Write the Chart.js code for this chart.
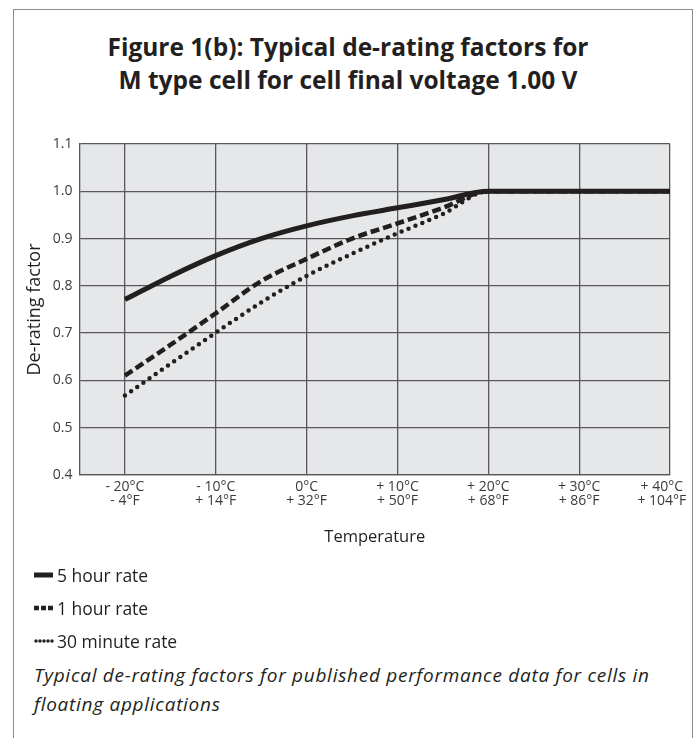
<!DOCTYPE html>
<html>
<head>
<meta charset="utf-8">
<title>De-rating factors</title>
<script src="https://cdn.jsdelivr.net/npm/chart.js@4.4.1/dist/chart.umd.min.js"></script>
<style>
  html, body { margin: 0; padding: 0; background: #fff; }
  body {
    width: 696px; height: 738px; position: relative; overflow: hidden;
    font-family: 'Open Sans', sans-serif; color: #231f20;
  }
  #frame {
    position: absolute; left: 13px; top: 9px; width: 678px; height: 760px;
    border: 1.5px solid #8c8c8c; border-bottom: none;
  }
  #title {
    position: absolute; left: 0; top: 30px; width: 696px;
    text-align: center; font-weight: 700; font-size: 24.5px; line-height: 33px;
  }
  #chart-wrap { position: absolute; left: 0; top: 120px; width: 696px; height: 440px; }
  #legend { position: absolute; left: 34px; top: 558px; font-size: 17.5px; }
  .legend-row { display: flex; align-items: center; height: 33px; white-space: nowrap; }
  .legend-row svg { margin-right: 3px; }
  #caption {
    position: absolute; left: 34px; top: 661px; width: 660px;
    font-size: 19px; font-style: italic; line-height: 29px; letter-spacing: 0.72px;
    white-space: nowrap;
  }
</style>
</head>
<body>
<div id="frame"></div>
<div id="title">Figure 1(b): Typical de-rating factors for<br>M type cell for cell final voltage 1.00 V</div>
<div id="chart-wrap"><canvas id="chart" width="696" height="440"></canvas></div>
<div id="legend"></div>
<div id="caption">Typical de-rating factors for published performance data for cells in<br>floating applications</div>

<script>
'use strict';

// ─── Data ─────────────────────────────────────────────────────────────────────
const temps   = [-20, -15, -10, -5, 0, 5, 10, 15, 20, 30, 40];
const rate5h  = [0.771, 0.820, 0.864, 0.900, 0.927, 0.948, 0.965, 0.982, 1.0, 1.0, 1.0];
const rate1h  = [0.610, 0.675, 0.742, 0.810, 0.857, 0.900, 0.932, 0.965, 1.0, 1.0, 1.0];
const rate30m = [0.568, 0.635, 0.701, 0.765, 0.821, 0.868, 0.911, 0.952, 1.0, 1.0, 1.0];

const seriesNames = ['5 hour rate', '1 hour rate', '30 minute rate'];

const xTickValues = [-20, -10, 0, 10, 20, 30, 40];
const xTickLabels = [
  ['- 20°C', '- 4°F'],
  ['- 10°C', '+ 14°F'],
  ['0°C',    '+ 32°F'],
  ['+ 10°C', '+ 50°F'],
  ['+ 20°C', '+ 68°F'],
  ['+ 30°C', '+ 86°F'],
  ['+ 40°C', '+ 104°F'],
];
const yTickValues = [0.4, 0.5, 0.6, 0.7, 0.8, 0.9, 1.0, 1.1];

// ─── Styles ───────────────────────────────────────────────────────────────────
const INK       = '#231f20';
const GRID      = '#58585a';
const TICK_TEXT = '#3c3a3b';
const FONT      = "'Open Sans', sans-serif";

const lineStyles = [
  { width: 5,   dash: [],       cap: 'butt',  svgDash: '',    svgWidth: 5   },
  { width: 4.5, dash: [9, 4],   cap: 'butt',  svgDash: '5 2', svgWidth: 4.5 },
  { width: 4.5, dash: [0, 7.5], cap: 'round', svgDash: '0 4', svgWidth: 3.5 },
];

function toPoints(values) {
  return temps.map((t, i) => ({ x: t, y: values[i] }));
}

// the last tick sits on the frame edge, so its label is nudged left like the original
function tickLabel(v) {
  const idx = xTickValues.indexOf(v);
  const lines = xTickLabels[idx];
  if (idx === xTickValues.length - 1) return lines.map((s) => s + '\u2003\u2009');
  return lines;
}

// ─── Plot background ──────────────────────────────────────────────────────────
const plotBg = {
  id: 'plotBg',
  beforeDraw(chart) {
    const { ctx, chartArea: a } = chart;
    ctx.save();
    ctx.fillStyle = '#e6e7e8';
    ctx.fillRect(a.left, a.top, a.right - a.left, a.bottom - a.top);
    ctx.restore();
  },
};

const seriesValues = [rate5h, rate1h, rate30m];

const datasets = seriesValues.map((vals, i) => ({
  label:                  seriesNames[i],
  data:                   toPoints(vals),
  borderColor:            INK,
  borderWidth:            lineStyles[i].width,
  borderDash:             lineStyles[i].dash,
  borderCapStyle:         lineStyles[i].cap,
  borderJoinStyle:        'round',
  cubicInterpolationMode: 'monotone',
  pointRadius:            0,
  fill:                   false,
}));

new Chart(document.getElementById('chart').getContext('2d'), {
  type: 'line',
  data: { datasets },
  plugins: [plotBg],
  options: {
    responsive:       false,
    animation:        false,
    devicePixelRatio: 1,
    layout: { padding: { left: 20, top: 24, right: 26, bottom: 0 } },
    plugins: {
      legend:  { display: false },
      tooltip: { enabled: false },
    },
    scales: {
      x: {
        type: 'linear',
        min:  -25,
        max:  40,
        afterBuildTicks: (s) => { s.ticks = xTickValues.map((v) => ({ value: v })); },
        afterFit: (s) => { s.height = 85; s.paddingLeft = 0; s.paddingRight = 0; },
        ticks: {
          callback:    tickLabel,
          autoSkip:    false,
          maxRotation: 0,
          padding:     5,
          color:       TICK_TEXT,
          font:        { family: FONT, size: 14, lineHeight: 1.0 },
        },
        grid:   { color: GRID, lineWidth: 1.3, drawTicks: false },
        border: { color: GRID, width: 1.3 },
        title: {
          display: true,
          text:    'Temperature',
          color:   INK,
          font:    { family: FONT, size: 16.5 },
          padding: { top: 0, bottom: 13 },
        },
      },
      y: {
        min: 0.4,
        max: 1.1,
        afterBuildTicks: (s) => { s.ticks = yTickValues.map((v) => ({ value: v })); },
        afterFit: (s) => { s.width = 59.5; s.paddingTop = 0; s.paddingBottom = 0; },
        ticks: {
          callback: (v) => v.toFixed(1),
          padding:  7,
          color:    TICK_TEXT,
          font:     { family: FONT, size: 14 },
        },
        grid:   { color: GRID, lineWidth: 1.3, drawTicks: false },
        border: { color: GRID, width: 1.3 },
        title: {
          display: true,
          text:    'De-rating factor',
          color:   INK,
          font:    { family: FONT, size: 18 },
          padding: { top: 4, bottom: 0 },
        },
      },
    },
  },
});

// ─── Legend (HTML, built from the series) ─────────────────────────────────────
document.getElementById('legend').innerHTML = seriesNames.map((name, i) => {
  const st = lineStyles[i];
  const dash = st.svgDash ? ` stroke-dasharray="${st.svgDash}"` : '';
  const x1 = st.cap === 'round' ? 2 : 0;
  return `
    <div class="legend-row">
      <svg width="20" height="8"><line x1="${x1}" y1="4" x2="19" y2="4" stroke="${INK}"
        stroke-width="${st.svgWidth}" stroke-linecap="${st.cap}"${dash}/></svg>
      <span>${name}</span>
    </div>`;
}).join('');
</script>
</body>
</html>
